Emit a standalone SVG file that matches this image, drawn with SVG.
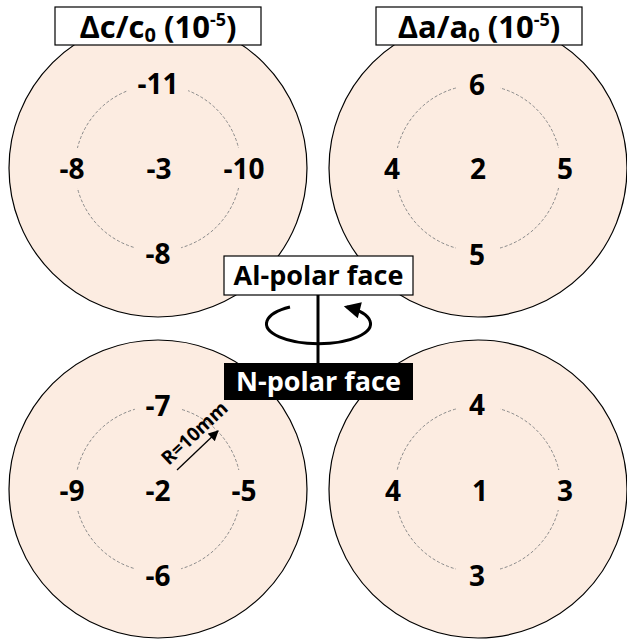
<svg xmlns="http://www.w3.org/2000/svg" width="627" height="641" viewBox="0 0 627 641">
<defs>
<style>
.wafer{fill:#FCECE1;stroke:#000;stroke-width:1.2}
.ring{fill:none;stroke:#8a8a8a;stroke-width:1;stroke-dasharray:3 2}
.bg{fill:#FCECE1}
.num{font-family:"Open Sans","Liberation Sans",sans-serif;font-weight:bold;font-size:28px;fill:#000;text-anchor:middle;dominant-baseline:central}
.title{font-family:"Open Sans","Liberation Sans",sans-serif;font-weight:bold;font-size:31px;fill:#000;text-anchor:middle}
.face{font-family:"Open Sans","Liberation Sans",sans-serif;font-weight:bold;font-size:27px;text-anchor:middle}
.box{fill:#fff;stroke:#000;stroke-width:1.2}
</style>
<marker id="ah" viewBox="0 0 10 10" refX="8" refY="5" markerWidth="6" markerHeight="5.5" orient="auto" markerUnits="strokeWidth"><path d="M0,0 L10,5 L0,10 Z" fill="#000"/></marker>
<marker id="ah2" viewBox="0 0 10 10" refX="9" refY="5" markerWidth="9" markerHeight="8" orient="auto" markerUnits="strokeWidth"><path d="M0,0 L10,5 L0,10 Z" fill="#000"/></marker>
</defs>
<rect width="627" height="641" fill="#fff"/>

<g id="wafer-c-al">
<circle class="wafer" cx="158" cy="168" r="149"/>
<circle class="ring" cx="158" cy="168" r="83"/>
<rect class="bg" x="128" y="63" width="60" height="40"/>
<rect class="bg" x="50" y="148" width="46" height="40"/>
<rect class="bg" x="136" y="148" width="46" height="40"/>
<rect class="bg" x="214" y="148" width="60" height="40"/>
<rect class="bg" x="135" y="233" width="46" height="40"/>
<text class="num" x="158" y="83">-11</text>
<text class="num" x="72" y="168">-8</text>
<text class="num" x="159" y="168">-3</text>
<text class="num" x="244" y="168">-10</text>
<text class="num" x="158" y="253">-8</text>
</g>

<g id="wafer-a-al">
<circle class="wafer" cx="478" cy="168" r="149"/>
<circle class="ring" cx="478" cy="168" r="83"/>
<rect class="bg" x="456" y="64" width="44" height="40"/>
<rect class="bg" x="375" y="148" width="36" height="40"/>
<rect class="bg" x="460" y="148" width="36" height="40"/>
<rect class="bg" x="547" y="148" width="36" height="40"/>
<rect class="bg" x="456" y="234" width="44" height="40"/>
<text class="num" x="477" y="84">6</text>
<text class="num" x="392" y="168">4</text>
<text class="num" x="478" y="168">2</text>
<text class="num" x="565" y="168">5</text>
<text class="num" x="477" y="254">5</text>
</g>

<g id="wafer-c-n">
<circle class="wafer" cx="158" cy="489" r="149"/>
<circle class="ring" cx="158" cy="489" r="83"/>
<rect class="bg" x="135" y="385" width="46" height="40"/>
<rect class="bg" x="50" y="470" width="46" height="40"/>
<rect class="bg" x="136" y="470" width="46" height="40"/>
<rect class="bg" x="221" y="470" width="46" height="40"/>
<rect class="bg" x="135" y="555" width="46" height="40"/>
<text class="num" x="158" y="405">-7</text>
<text class="num" x="72" y="490">-9</text>
<text class="num" x="158" y="490">-2</text>
<text class="num" x="244" y="490">-5</text>
<text class="num" x="158" y="575">-6</text>
</g>

<g id="wafer-a-n">
<circle class="wafer" cx="478" cy="489" r="149"/>
<circle class="ring" cx="478" cy="489" r="83"/>
<rect class="bg" x="456" y="384" width="44" height="40"/>
<rect class="bg" x="375" y="470" width="36" height="40"/>
<rect class="bg" x="462" y="470" width="36" height="40"/>
<rect class="bg" x="547" y="470" width="36" height="40"/>
<rect class="bg" x="456" y="555" width="44" height="40"/>
<text class="num" x="477" y="404">4</text>
<text class="num" x="393" y="490">4</text>
<text class="num" x="480" y="490">1</text>
<text class="num" x="565" y="490">3</text>
<text class="num" x="477" y="575">3</text>
</g>

<g id="radius-label">
<line x1="177" y1="470" x2="218" y2="431" stroke="#000" stroke-width="1.3" marker-end="url(#ah2)"/>
<text x="0" y="0" transform="translate(199,438) rotate(-43)" font-family="'Open Sans','Liberation Sans',sans-serif" font-weight="bold" font-size="19" text-anchor="middle">R=10mm</text>
</g>

<g id="title-c">
<rect class="box" x="55" y="7" width="206" height="38"/>
<text class="title" x="158" y="38">Δc/c<tspan font-size="20" dy="4">0</tspan><tspan dy="-4"> (10</tspan><tspan font-size="18" dy="-12">-5</tspan><tspan dy="12">)</tspan></text>
</g>

<g id="title-a">
<rect class="box" x="376" y="7" width="206" height="38"/>
<text class="title" x="479" y="38">Δa/a<tspan font-size="20" dy="4">0</tspan><tspan dy="-4"> (10</tspan><tspan font-size="18" dy="-12">-5</tspan><tspan dy="12">)</tspan></text>
</g>

<g id="connectors">
<path d="M290,307 A52,20 0 1,0 347,307" fill="none" stroke="#000" stroke-width="3" marker-end="url(#ah)"/>
<line x1="318" y1="295" x2="318" y2="363" stroke="#000" stroke-width="3"/>
</g>

<g id="al-face">
<rect class="box" x="224" y="256" width="189" height="39"/>
<text class="face" x="318.5" y="285" fill="#000">Al-polar face</text>
</g>

<g id="n-face">
<rect x="224" y="363" width="189" height="37" fill="#000"/>
<text class="face" x="318.5" y="391" fill="#fff">N-polar face</text>
</g>
</svg>
